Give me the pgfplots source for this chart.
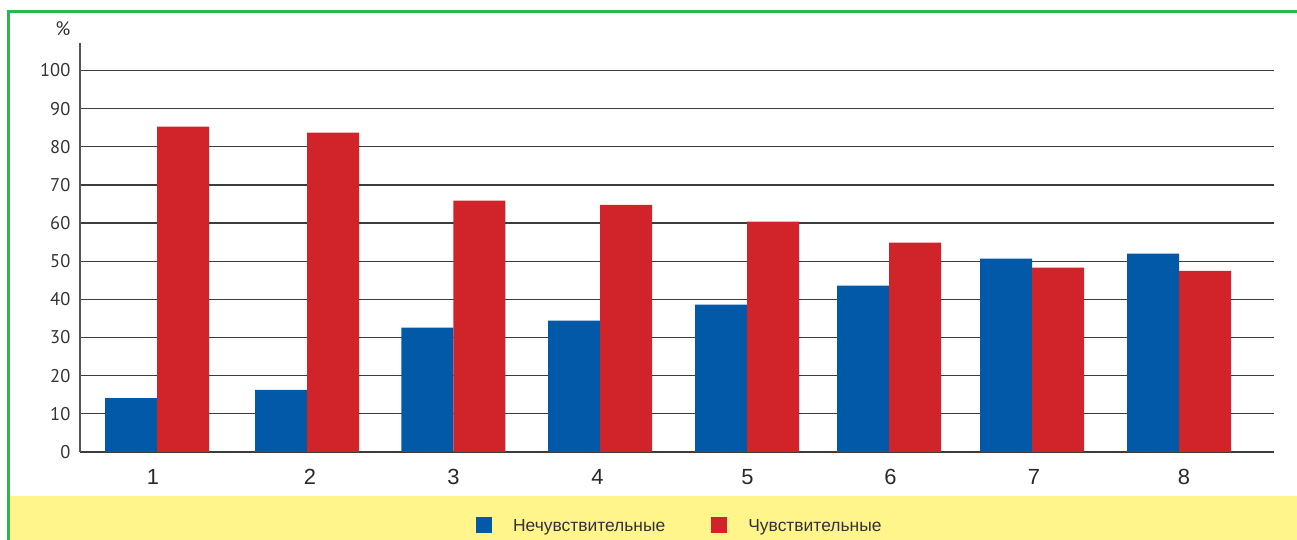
\documentclass[border=0pt]{standalone}
\usepackage{pgfplots}
\pgfplotsset{compat=1.18}
\usepackage{fontspec}
\setmainfont{Liberation Sans}
\newfontfamily\ptsans{PT Sans}
\definecolor{cblue}{HTML}{0259A8}
\definecolor{cred}{HTML}{D1232A}
\definecolor{cyellow}{HTML}{FFF58A}
\definecolor{cgreen}{HTML}{2DB64E}
\definecolor{cgrid}{HTML}{3C3C3C}
\definecolor{caxis}{HTML}{555555}
\definecolor{ctext}{HTML}{333333}
\begin{document}
\begin{tikzpicture}[x=1bp,y=1bp]
\path[use as bounding box] (0,0) rectangle (1297,540);
\fill[cyellow] (10,0) rectangle (1297,44);
\draw[cgreen, line width=2.8bp] (8.3,0) -- (8.3,528.7) -- (1297,528.7);
\begin{axis}[
  at={(80bp,88bp)}, anchor=south west,
  scale only axis, width=1194bp, height=409bp,
  xmin=80, xmax=1274, ymin=0, ymax=107.2,
  enlargelimits=false, clip=false,
  ybar=0pt, bar width=52bp,
  axis y line=left, axis x line=bottom,
  axis line style={-},
  y axis line style={draw=caxis, line width=1.5bp},
  x axis line style={draw=cgrid, line width=1.2bp},
  ymajorgrids, grid style={draw=cgrid, line width=1.2bp},
  major tick length=0pt,
  ytick={0,10,...,100},
  xtick={153,310,453.5,597.5,747.5,890.5,1034,1184},
  xticklabels={1,2,3,4,5,6,7,8},
  /pgf/number format/assume math mode=true,
  yticklabel style={font=\ptsans\fontsize{18.5}{20}\selectfont, text=ctext, inner sep=0pt, xshift=-9.5bp},
  xticklabel style={font=\fontsize{22}{24}\selectfont, text=ctext!80!black, inner sep=0pt, yshift=-17bp},
  legend columns=2,
  legend cell align=left,
  legend image code/.code={\fill[#1, draw=none] (0bp,-6bp) rectangle (16bp,10bp);},
  legend style={at={(0.3317,-0.1786)}, anchor=west, draw=none, fill=none,
    inner sep=0pt, outer sep=0pt,
    font=\fontsize{17.5}{20}\selectfont, text=ctext,
    nodes={inner sep=0pt},
    /tikz/every odd column/.append style={column sep=21bp},
    /tikz/every even column/.append style={column sep=46bp}},
]
\addplot[fill=cblue, draw=none] coordinates {
 (157,14.1) (307,16.3) (453.3,32.6) (600,34.4) (747,38.6) (889,43.6) (1032,50.7) (1179,52.0)};
\addplot[fill=cred, draw=none] coordinates {
 (157,85.3) (307,83.7) (453.3,65.9) (600,64.8) (747,60.4) (889,54.9) (1032,48.3) (1179,47.5)};
\legend{Нечувствительные, Чувствительные}
\node[font=\ptsans\fontsize{19.5}{20}\selectfont, text=ctext] at (axis cs:63,110.9) {\%};
\end{axis}
\end{tikzpicture}
\end{document}
